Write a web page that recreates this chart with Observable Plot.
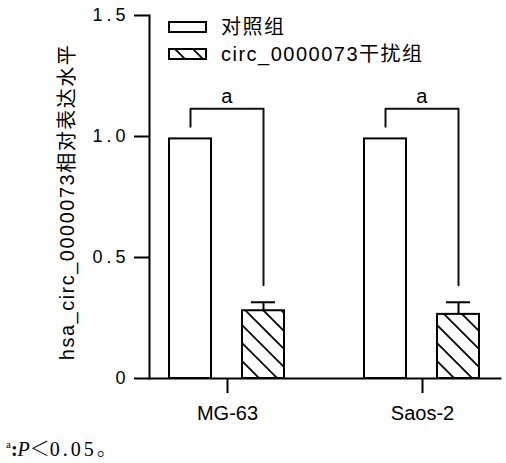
<!DOCTYPE html>
<html>
<head>
<meta charset="utf-8">
<script src="https://cdn.jsdelivr.net/npm/d3@7"></script>
<script src="https://cdn.jsdelivr.net/npm/@observablehq/plot@0.6"></script>
<style>
  html, body { margin: 0; padding: 0; background: #fff; overflow: hidden; }
  #chart svg { display: block; }
  #caption {
    font-family: "Liberation Serif", "DejaVu Serif", serif;
    font-size: 20px; color: #000; height: 32px; line-height: 30px;
    padding-top: 4px; padding-left: 6px; box-sizing: content-box;
  }
  #caption sup { font-size: 11px; }
  #caption .num { letter-spacing: 3px; }
  #caption .cjk { font-family: "Noto Sans CJK SC", sans-serif; font-weight: 300; }
</style>
</head>
<body>
<div id="chart"></div>
<div id="caption"><sup>a</sup><b>:</b><i>P</i><span class="cjk">＜</span><span class="num">0.05</span><span class="cjk">。</span></div>
<script>
// ---- data ----
const groups = ["MG-63", "Saos-2"];
const series = ["对照组", "circ_0000073干扰组"];
const controlMeans = [0.99, 0.99];
const knockdownMeans = [0.28, 0.265];
const knockdownErr = [0.035, 0.05];
const bracketLeftLow = [1.04, 1.04];
const bracketTop = [1.115, 1.115];
const bracketRightLow = [0.385, 0.385];
const sigLabels = ["a", "a"];
const sigLabelY = [1.165, 1.165];
const yTicks = [0, 0.5, 1.0, 1.5];
const yTickLabels = ["0", "0.5", "1.0", "1.5"];
const yTitle = "hsa_circ_0000073相对表达水平";

// ---- tables built from arrays ----
const bars = [];
groups.forEach((g, i) => {
  bars.push({group: g, series: series[0], value: controlMeans[i]});
  bars.push({group: g, series: series[1], value: knockdownMeans[i]});
});
const errs = groups.map((g, i) => ({group: g, series: series[1], lo: knockdownMeans[i], hi: knockdownMeans[i] + knockdownErr[i]}));
const brackets = [];
groups.forEach((g, i) => {
  brackets.push({group: g, series: series[0], v: bracketLeftLow[i]});
  brackets.push({group: g, series: series[0], v: bracketTop[i]});
  brackets.push({group: g, series: series[1], v: bracketTop[i]});
  brackets.push({group: g, series: series[1], v: bracketRightLow[i]});
});
const sigs = groups.map((g, i) => ({group: g, label: sigLabels[i], y: sigLabelY[i]}));

const FONT = "'Liberation Sans', 'Noto Sans CJK SC', sans-serif";

const plot = Plot.plot({
  width: 506,
  height: 425,
  marginLeft: 142,
  marginRight: 0,
  marginTop: 15,
  marginBottom: 47,
  style: {fontFamily: FONT, color: "#000", background: "#fff"},
  fx: {domain: groups, paddingInner: 0.2, paddingOuter: 0.0333},
  x: {domain: series, paddingInner: 0.419, paddingOuter: 0.2636, axis: null},
  y: {domain: [0, 1.5]},
  marks: [
    Plot.barY(bars, {
      fx: "group", x: "series", y: "value",
      fill: d => d.series === series[0] ? "#fff" : "url(#hatch)",
      stroke: "#000", strokeWidth: 2
    }),
    Plot.ruleX(errs, {fx: "group", x: "series", y1: "lo", y2: "hi", stroke: "#000", strokeWidth: 2}),
    Plot.tickY(errs, {fx: "group", x: "series", y: "hi", stroke: "#000", strokeWidth: 2, insetLeft: 9, insetRight: 9}),
    Plot.line(brackets, {fx: "group", x: "series", y: "v", z: "group", stroke: "#111", strokeWidth: 2}),
    Plot.text(sigs, {fx: "group", y: "y", text: "label", fontSize: 20, fill: "#000"}),
    Plot.frame({facet: "super", anchor: "bottom", stroke: "#000", strokeWidth: 2}),
    Plot.frame({facet: "super", anchor: "left", stroke: "#000", strokeWidth: 2}),
    Plot.axisY({
      ticks: yTicks,
      tickFormat: d => yTickLabels[yTicks.indexOf(d)],
      tickSize: 15, tickPadding: 5, fontSize: 18, strokeWidth: 2,
      label: null, stroke: "#000", fill: "#000"
    }),
    Plot.axisFx({
      anchor: "bottom", tickSize: 15, tickPadding: 12, fontSize: 20,
      strokeWidth: 2, label: null, stroke: "#000", fill: "#000"
    }),
    Plot.text([yTitle], {
      facet: "super", frameAnchor: "left", textAnchor: "middle", rotate: -90, dx: -82, dy: 5,
      text: d => d, fontSize: 20, fill: "#000"
    })
  ]
});

document.getElementById("chart").appendChild(plot);

const svg = d3.select(plot);
// hatch pattern
const defs = svg.insert("defs", ":first-child");
const pat = defs.append("pattern")
  .attr("id", "hatch").attr("patternUnits", "userSpaceOnUse")
  .attr("width", 18).attr("height", 18);
pat.append("rect").attr("width", 18).attr("height", 18).attr("fill", "#fff");
pat.append("path")
  .attr("d", "M0,0L18,18M-3,15L3,21M15,-3L21,3")
  .attr("stroke", "#000").attr("stroke-width", 1.8);

// axis tick text letter spacing
svg.selectAll("[aria-label='y-axis tick label'] text").style("letter-spacing", "4px");
svg.selectAll("[aria-label='text'] text").style("letter-spacing", "1.5px");

// legend
const leg = svg.append("g").attr("aria-label", "legend");
series.forEach((s, i) => {
  const y0 = 22 + i * 27;
  leg.append("rect").attr("x", 169).attr("y", y0).attr("width", 37).attr("height", 10)
    .attr("fill", i === 0 ? "#fff" : "url(#hatch)").attr("stroke", "#000").attr("stroke-width", 2);
  leg.append("text").attr("x", 221).attr("y", y0 + 5).attr("dy", "0.35em")
    .attr("text-anchor", "start")
    .attr("font-size", 20).attr("font-family", FONT).style("letter-spacing", "1.5px")
    .attr("fill", "#000").text(s);
});
</script>
</body>
</html>
